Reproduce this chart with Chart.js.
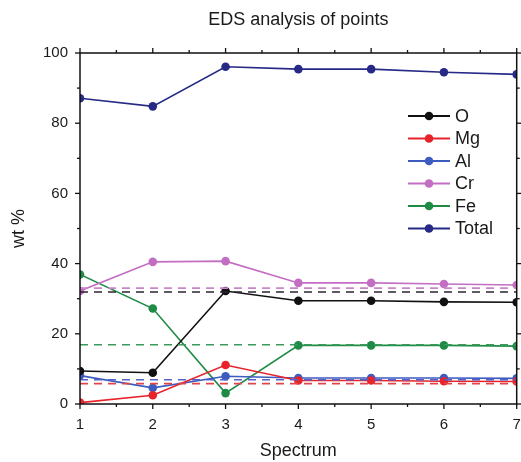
<!DOCTYPE html>
<html>
<head>
<meta charset="utf-8">
<script src="https://cdn.jsdelivr.net/npm/chart.js@4/dist/chart.umd.min.js"></script>
<style>
html,body{margin:0;padding:0;background:#fff;}
#wrap{width:521px;height:462px;}
</style>
</head>
<body>
<div id="wrap"><canvas id="c" width="521" height="462"></canvas></div>
<script>
const spectra = [1, 2, 3, 4, 5, 6, 7];
const seriesNames = ['O', 'Mg', 'Al', 'Cr', 'Fe', 'Total'];
const O     = [9.4, 8.9, 32.2, 29.4, 29.4, 29.1, 29.0];
const Mg    = [0.4, 2.5, 11.1, 6.7, 6.7, 6.5, 6.4];
const Al    = [8.1, 4.6, 7.9, 7.4, 7.4, 7.4, 7.3];
const Cr    = [32.2, 40.5, 40.7, 34.5, 34.5, 34.2, 33.9];
const Fe    = [36.9, 27.2, 3.1, 16.7, 16.7, 16.7, 16.5];
const Total = [87.1, 84.8, 96.1, 95.4, 95.4, 94.5, 93.9];
// averages drawn as dashed reference lines
const avgO = 31.9, avgMg = 5.8, avgAl = 6.9, avgCr = 33.0, avgFe = 16.9;
const yTicks = [0, 20, 40, 60, 80, 100];
const xTicks = [1, 2, 3, 4, 5, 6, 7];

const colors = {O:'#111111', Mg:'#e8242b', Al:'#3c5cc0', Cr:'#c36ec3', Fe:'#1f8b45', Total:'#262a86'};
const dashColors = {O:'#2b2233', Mg:'#e0454a', Al:'#5560c8', Cr:'#c886c8', Fe:'#3a9a5a'};

const valuesBy = {O, Mg, Al, Cr, Fe, Total};
const avgBy = {O:avgO, Mg:avgMg, Al:avgAl, Cr:avgCr, Fe:avgFe};

const datasets = [];
['Fe','Cr','O','Mg','Al'].forEach(k => {
  datasets.push({
    label: k + ' avg', isAvg: true,
    data: [{x: spectra[0], y: avgBy[k]}, {x: spectra[spectra.length-1], y: avgBy[k]}],
    borderColor: dashColors[k], borderWidth: 1.6, borderDash: [8, 6],
    pointRadius: 0, fill: false, clip: 0
  });
});
seriesNames.forEach(k => {
  datasets.push({
    label: k, isMain: true,
    data: spectra.map((s, i) => ({x: s, y: valuesBy[k][i]})),
    borderColor: colors[k], backgroundColor: colors[k],
    borderWidth: 1.6, pointRadius: 4.3, pointHoverRadius: 4.3,
    pointBorderWidth: 0, fill: false, clip: 0
  });
});

const frame = {
  id: 'frame',
  afterDatasetsDraw(chart) {
    const {ctx, chartArea: a, scales: {x, y}} = chart;
    ctx.save();
    ctx.strokeStyle = '#111';
    ctx.lineWidth = 1.5;
    ctx.strokeRect(a.left, a.top, a.right - a.left, a.bottom - a.top);
    ctx.lineWidth = 1.3;
    const tick = (x1, y1, x2, y2) => { ctx.beginPath(); ctx.moveTo(x1, y1); ctx.lineTo(x2, y2); ctx.stroke(); };
    for (let v = 1; v <= 7; v += 0.5) {
      const px = x.getPixelForValue(v);
      const L = Number.isInteger(v) ? 5 : 3;
      tick(px, a.bottom, px, a.bottom + L);
      tick(px, a.top, px, a.top - L);
    }
    for (let v = 0; v <= 100; v += 10) {
      const py = y.getPixelForValue(v);
      const L = (v % 20 === 0) ? 5 : 3;
      tick(a.left, py, a.left - L, py);
      tick(a.right, py, a.right + L, py);
    }
    // legend
    const mains = chart.data.datasets.filter(d => d.isMain);
    ctx.font = '18px "Liberation Sans", Arial, sans-serif';
    ctx.textBaseline = 'middle';
    ctx.textAlign = 'left';
    mains.forEach((d, i) => {
      const yy = 116 + i * 22.5;
      ctx.strokeStyle = d.borderColor; ctx.lineWidth = 1.8;
      tick(408, yy, 450, yy);
      ctx.fillStyle = d.borderColor;
      ctx.beginPath(); ctx.arc(429, yy, 4.3, 0, Math.PI * 2); ctx.fill();
      ctx.fillStyle = '#1a1a1a';
      ctx.fillText(d.label, 455, yy + 1);
    });
    ctx.restore();
  }
};

new Chart(document.getElementById('c'), {
  type: 'line',
  data: {datasets},
  plugins: [frame],
  options: {
    responsive: false, animation: false,
    layout: {padding: {left: 0, right: 0, top: 0, bottom: 0}},
    plugins: {
      legend: {display: false},
      tooltip: {enabled: false},
      title: {
        display: true, text: 'EDS analysis of points', fullSize: false,
        color: '#1a1a1a', font: {family: '"Liberation Sans", Arial, sans-serif', size: 18, weight: 'normal'},
        padding: {top: 9, bottom: 22.4}
      }
    },
    scales: {
      x: {
        type: 'linear', min: 1, max: 7,
        afterFit: s => { s.height = 58; s.paddingRight = 4; s.paddingLeft = 0; },
        afterBuildTicks: s => { s.ticks = xTicks.map(v => ({value: v})); },
        grid: {display: false, drawTicks: false}, border: {display: false},
        ticks: {color: '#1a1a1a', padding: 12, font: {family: '"Liberation Sans", Arial, sans-serif', size: 15}},
        title: {display: true, text: 'Spectrum', color: '#1a1a1a', padding: {top: 0, bottom: 0},
          font: {family: '"Liberation Sans", Arial, sans-serif', size: 18}}
      },
      y: {
        type: 'linear', min: 0, max: 100,
        afterFit: s => { s.width = 80; },
        afterBuildTicks: s => { s.ticks = yTicks.map(v => ({value: v})); },
        grid: {display: false, drawTicks: false}, border: {display: false},
        ticks: {color: '#1a1a1a', padding: 12, font: {family: '"Liberation Sans", Arial, sans-serif', size: 15}},
        title: {display: true, text: 'wt %', color: '#1a1a1a', padding: {top: 8, bottom: 0},
          font: {family: '"Liberation Sans", Arial, sans-serif', size: 18}}
      }
    }
  }
});
</script>
</body>
</html>
